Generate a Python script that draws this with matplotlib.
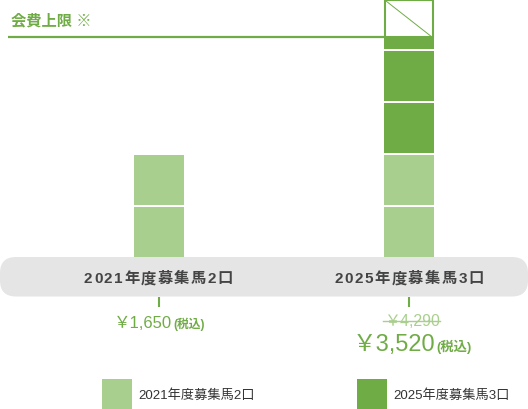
import matplotlib
matplotlib.use("Agg")
import matplotlib.pyplot as plt
from matplotlib.patches import Rectangle, FancyBboxPatch

plt.rcParams['font.family'] = ['Liberation Sans', 'Noto Sans CJK JP', 'DejaVu Sans']

# ---- data ----
categories = ['2021年度募集馬2口', '2025年度募集馬3口']
units_2021 = [2, 2]          # light segments per bar
units_2025 = [0, 3]          # dark segments per bar
cap_units = 4.23             # 会費上限 level (in units)
cap_label = '会費上限 ※'
old_prices = ['', '￥4,290']
prices = ['￥1,650', '￥3,520']
tax_label = '(税込)'
legend_labels = ['2021年度募集馬2口', '2025年度募集馬3口']

LIGHT = '#a9cf8e'
DARK = '#70ac46'
GRAY = '#e5e5e5'
TEXT = '#444444'

W, H = 528, 410
fig = plt.figure(figsize=(W / 100, H / 100), dpi=100)
renderer = fig.canvas.get_renderer()

# layout axes in pixel coordinates
lay = fig.add_axes([0, 0, 1, 1])
lay.set_xlim(0, W)
lay.set_ylim(H, 0)
lay.axis('off')

# data axes
base_px, unit_px, c0, step = 258, 52, 158.5, 250.5
ax = fig.add_axes([0, 0, 1, 1])
ax.patch.set_alpha(0)
ax.set_ylim((base_px - H) / unit_px, base_px / unit_px)
ax.set_xlim(-c0 / step, (W - c0) / step)
ax.axis('off')

def yu(py):
    return (base_px - py) / unit_px

def xc(px):
    return (px - c0) / step

def spaced_text(cx, y, s, spacing, **kw):
    widths = []
    for ch in s:
        t = lay.text(0, 0, ch, **kw)
        widths.append(t.get_window_extent(renderer).width)
        t.remove()
    total = sum(widths) + spacing * (len(s) - 1)
    x = cx - total / 2
    for ch, w in zip(s, widths):
        lay.text(x, y, ch, ha='left', va='center', zorder=6, **kw)
        x += w + spacing

seg = 50 / 52
bw = 50 / step
xs = list(range(len(categories)))

# gray band
band = FancyBboxPatch((0, 258), W, 39.5, boxstyle="round,pad=0,rounding_size=16",
                      facecolor=GRAY, edgecolor='none', zorder=1)
lay.add_patch(band)

# bars
for c in xs:
    b = 0
    for i in range(units_2021[c]):
        ax.bar(c, seg, bottom=b, width=bw, color=LIGHT, zorder=3)
        b += 1
    for i in range(units_2025[c]):
        top = b + seg
        if top > cap_units:
            ax.bar(c, cap_units - b, bottom=b, width=bw, color=DARK, zorder=3)
            inset_x = 1 / step
            inset_y = 1 / unit_px
            ax.add_patch(Rectangle((c - bw / 2 + inset_x, cap_units), bw - 2 * inset_x,
                                   top - cap_units - inset_y, facecolor='white',
                                   edgecolor=DARK, linewidth=1.5, zorder=3))
            ax.plot([c - bw / 2 + 2 * inset_x, c + bw / 2 - 2 * inset_x],
                    [top - 2 * inset_y, cap_units], color=DARK, lw=0.7, zorder=4)
        else:
            ax.bar(c, seg, bottom=b, width=bw, color=DARK, zorder=3)
        b += 1

# cap line
ax.hlines(cap_units, xc(8), xs[-1] - bw / 2, color=DARK, lw=1.6, zorder=4)
lay.text(11, 21, cap_label, color=DARK, fontsize=11, fontweight='bold',
         ha='left', va='center')

# category labels in band
for c, lab in zip(xs, categories):
    spaced_text(c0 + step * c, 279, lab, 1.5, fontsize=11,
                fontweight='bold', color=TEXT)
    ax.vlines(c, yu(298), yu(308), color=DARK, lw=1.5, zorder=5)

# prices
split_px = [172, 435]
base_y = [328, 351]
main_sizes = [12, 17]
tax_sizes = [8.5, 9.5]
for c in xs:
    lay.text(split_px[c], base_y[c], prices[c], ha='right', va='baseline',
             fontsize=main_sizes[c], color=DARK)
    lay.text(split_px[c] + 1, base_y[c], tax_label, ha='left', va='baseline',
             fontsize=tax_sizes[c], color=DARK, fontweight='bold')
    if old_prices[c]:
        lay.text(411.5, 326.5, old_prices[c], ha='center', va='baseline',
                 fontsize=11.5, color=LIGHT)
        lay.plot([383, 440], [321.5, 321.5], color=LIGHT, lw=1.0)

# legend
leg_x = [102, 357]
leg_cols = [LIGHT, DARK]
for lx, col, lab in zip(leg_x, leg_cols, legend_labels):
    lay.add_patch(Rectangle((lx, 380), 30, 30, facecolor=col, edgecolor='none'))
    lay.text(lx + 36, 395, lab, ha='left', va='center', fontsize=9.5, color='#333333')

fig.savefig('out.png', dpi=100)
